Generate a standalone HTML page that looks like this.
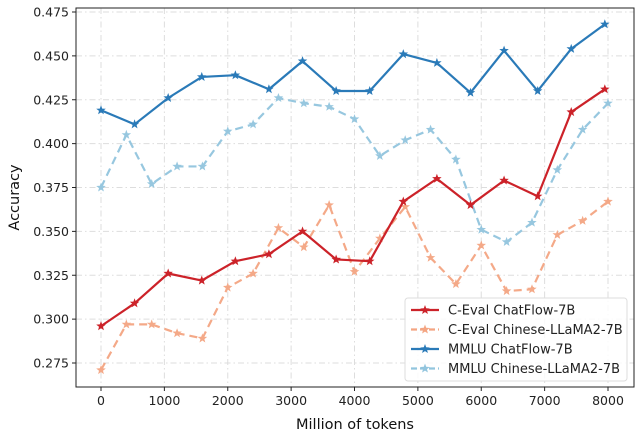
<!DOCTYPE html>
<html><head><meta charset="utf-8"><style>
body{margin:0;background:#fff;}
svg{display:block;font-family:"DejaVu Sans","Liberation Sans",sans-serif;}
</style></head><body>
<svg id="chart" width="641" height="439"></svg>
<script>
const xTicks=[0,1000,2000,3000,4000,5000,6000,7000,8000];
const yTicks=[0.275,0.300,0.325,0.350,0.375,0.400,0.425,0.450,0.475];
const xChatFlow=[0,530,1060,1590,2120,2650,3180,3710,4240,4770,5300,5830,6360,6890,7420,7950];
const xLlama=[0,400,800,1200,1600,2000,2400,2800,3200,3600,4000,4400,4800,5200,5600,6000,6400,6800,7200,7600,8000];
const cevalChatFlow=[.296,.309,.326,.322,.333,.337,.350,.334,.333,.367,.380,.365,.379,.370,.418,.431];
const cevalLlama=[.271,.297,.297,.292,.289,.318,.326,.352,.341,.365,.327,.346,.364,.335,.320,.342,.316,.317,.348,.356,.367];
const mmluChatFlow=[.419,.411,.426,.438,.439,.431,.447,.430,.430,.451,.446,.429,.453,.430,.454,.468];
const mmluLlama=[.375,.405,.377,.387,.387,.407,.411,.426,.423,.421,.414,.393,.402,.408,.391,.351,.344,.355,.385,.408,.423];
const seriesNames=["C-Eval ChatFlow-7B","C-Eval Chinese-LLaMA2-7B","MMLU ChatFlow-7B","MMLU Chinese-LLaMA2-7B"];

const L=76,R=634,T=8,B=387;
const xs=v=>101+v*(507/8000);
const ys=v=>12+(0.475-v)*1755;
const svg=document.getElementById('chart');
const NS='http://www.w3.org/2000/svg';
function mk(tag,attrs,parent){const e=document.createElementNS(NS,tag);for(const k in attrs)e.setAttribute(k,attrs[k]);(parent||svg).appendChild(e);return e;}
function star(cx,cy,r){let p=[];for(let i=0;i<10;i++){const a=-Math.PI/2+i*Math.PI/5;const rr=i%2?r*0.42:r;p.push((cx+rr*Math.cos(a)).toFixed(1)+','+(cy+rr*Math.sin(a)).toFixed(1));}return p.join(' ');}

const grid=mk('g',{});


xTicks.forEach(t=>{const l=mk('line',{x1:xs(t),x2:xs(t),y1:T,y2:B,stroke:'#ddd','stroke-dasharray':'6,3,1.5,3','stroke-width':1},grid);
});
yTicks.forEach(t=>{const l=mk('line',{x1:L,x2:R,y1:ys(t),y2:ys(t),stroke:'#ddd','stroke-dasharray':'6,3,1.5,3','stroke-width':1},grid);
});

function drawSeries(xv,yv,color,dash,name,alpha){
  const g=mk('g',{opacity:alpha});
  
  
  const pts=xv.map((x,i)=>xs(x)+','+ys(yv[i])).join(' ');
  mk('polyline',{points:pts,fill:'none',stroke:color,'stroke-width':2.2,'stroke-dasharray':dash,'stroke-linejoin':'round'},g);
  xv.forEach((x,i)=>{const s=mk('polygon',{points:star(xs(x),ys(yv[i]),5),fill:color},g);
    });
}
drawSeries(xLlama,mmluLlama,'#92c5de','8,5','mmlu-llama-series',0.95);
drawSeries(xLlama,cevalLlama,'#f4a582','8,5','ceval-llama-series',0.95);
drawSeries(xChatFlow,mmluChatFlow,'#2a7ab8','none','mmlu-chatflow-series',1);
drawSeries(xChatFlow,cevalChatFlow,'#cc2229','none','ceval-chatflow-series',1);

const frame=mk('rect',{x:L,y:T,width:R-L,height:B-T,fill:'none',stroke:'#222','stroke-width':1});


xTicks.forEach(t=>{mk('line',{x1:xs(t),x2:xs(t),y1:B,y2:B+4,stroke:'#222'});
  const tx=mk('text',{x:xs(t),y:B+18,'text-anchor':'middle','font-size':12.5,fill:'#222'});tx.textContent=t;
  });
yTicks.forEach(t=>{mk('line',{x1:L-4,x2:L,y1:ys(t),y2:ys(t),stroke:'#222'});
  const tx=mk('text',{x:L-7,y:ys(t)+4.5,'text-anchor':'end','font-size':12.5,fill:'#222'});tx.textContent=t.toFixed(3);
  });

const xt=mk('text',{x:(L+R)/2,y:429,'text-anchor':'middle','font-size':14.5,fill:'#111'});xt.textContent='Million of tokens';

const yt=mk('text',{x:19,y:(T+B)/2,'text-anchor':'middle','font-size':14.5,fill:'#111',transform:'rotate(-90 19 '+((T+B)/2)+')'});yt.textContent='Accuracy';


const lg=mk('g',{});

mk('rect',{x:405,y:298,width:222,height:83,rx:3,fill:'#fff','fill-opacity':0.85,stroke:'#ddd'},lg);
const lc=['#cc2229','#f4a582','#2a7ab8','#92c5de'];const ld=['none','6,3','none','6,3'];
seriesNames.forEach((n,i)=>{const y=310+i*19.5;
  const e=mk('g',{},lg);
  mk('line',{x1:411,x2:439,y1:y,y2:y,stroke:lc[i],'stroke-width':2.2,'stroke-dasharray':ld[i]},e);
  mk('polygon',{points:star(425,y,5),fill:lc[i]},e);
  const t=mk('text',{x:448,y:y+4.5,'font-size':13,fill:'#222'},e);t.textContent=n;});
</script>
</body></html>
